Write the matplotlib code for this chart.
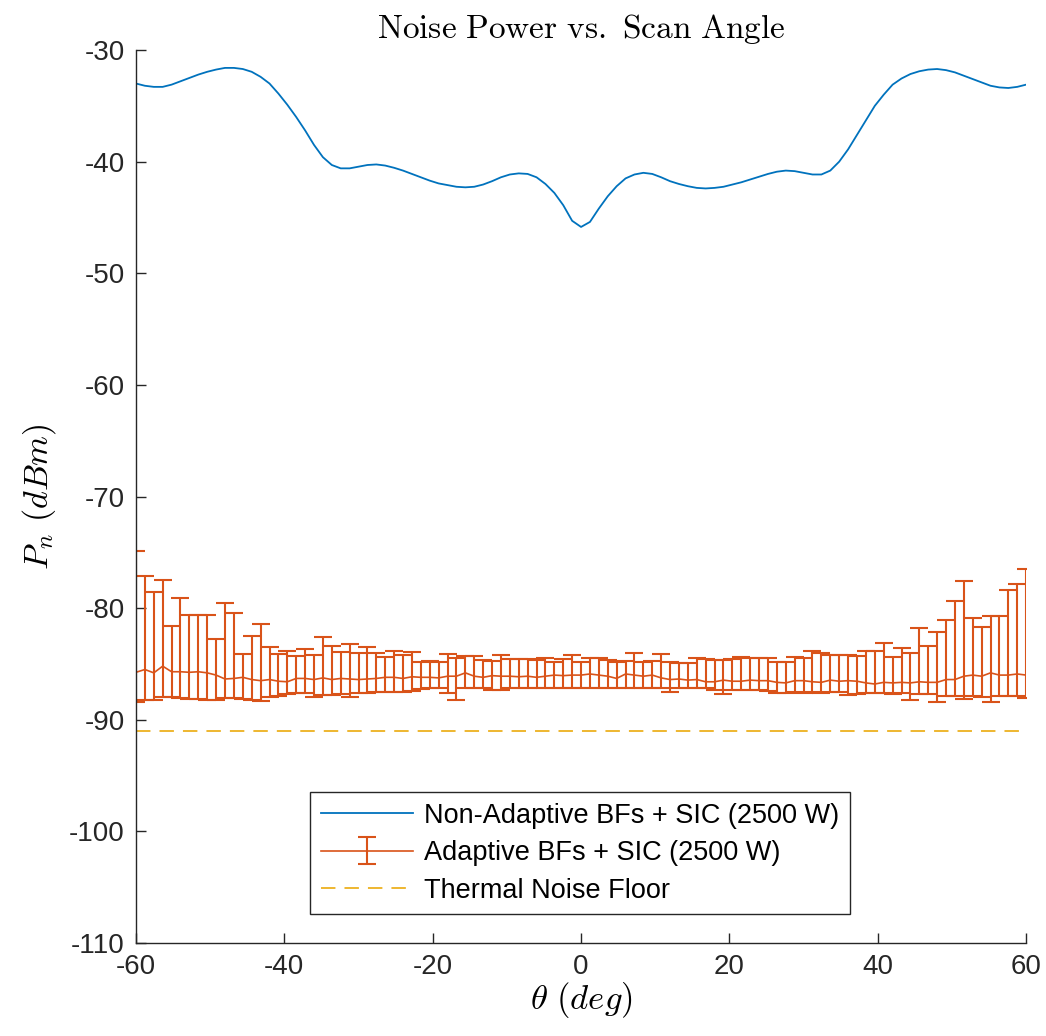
import numpy as np
import matplotlib
matplotlib.use("Agg")
import matplotlib.pyplot as plt

theta = np.linspace(-60, 60, 101)

non_adaptive = [
    -33.0, -33.2, -33.3, -33.3, -33.1, -32.8, -32.5, -32.2, -31.95, -31.75,
    -31.6, -31.6, -31.7, -31.95, -32.4, -33.0, -33.9, -34.9, -36.0, -37.2,
    -38.5, -39.6, -40.3, -40.6, -40.6, -40.45, -40.3, -40.25, -40.35, -40.55,
    -40.8, -41.1, -41.4, -41.7, -41.95, -42.1, -42.25, -42.3, -42.25, -42.05,
    -41.75, -41.4, -41.15, -41.05, -41.1, -41.4, -42.0, -42.8, -43.9, -45.3,
    -45.85, -45.4, -44.2, -43.1, -42.2, -41.5, -41.15, -41.0, -41.1, -41.4,
    -41.75, -42.0, -42.2, -42.35, -42.4, -42.35, -42.25, -42.05, -41.85, -41.6,
    -41.35, -41.1, -40.9, -40.8, -40.85, -41.0, -41.15, -41.15, -40.8, -40.0,
    -38.9, -37.6, -36.3, -35.0, -34.0, -33.1, -32.55, -32.15, -31.9, -31.75,
    -31.7, -31.8, -32.0, -32.3, -32.6, -32.9, -33.2, -33.35, -33.4, -33.3,
    -33.1,
]

adaptive_mean = [
    -85.75, -85.5, -85.8, -85.2, -85.7, -85.7, -85.75, -85.7, -85.8, -86.0,
    -86.35, -86.3, -86.2, -86.4, -86.5, -86.4, -86.55, -86.6, -86.3, -86.3,
    -86.4, -86.25, -86.4, -86.3, -86.35, -86.4, -86.35, -86.3, -86.2, -86.2,
    -86.3, -86.15, -86.2, -86.2, -86.25, -86.1, -86.1, -85.8, -86.1, -86.2,
    -86.05, -86.1, -86.1, -86.15, -86.1, -86.2, -86.1, -86.0, -86.05, -86.0,
    -86.0, -85.9, -86.0, -86.1, -86.3, -85.9, -86.0, -86.1, -86.0, -86.25,
    -86.4, -86.35, -86.45, -86.4, -86.6, -86.6, -86.45, -86.55, -86.55, -86.45,
    -86.5, -86.5, -86.65, -86.7, -86.5, -86.5, -86.6, -86.65, -86.45, -86.55,
    -86.5, -86.55, -86.7, -86.8, -86.65, -86.7, -86.65, -86.7, -86.6, -86.65,
    -86.65, -86.4, -86.4, -86.1, -86.0, -86.1, -85.8, -86.0, -86.0, -85.9,
    -86.0,
]

adaptive_upper = [
    -74.9, -77.1, -78.6, -77.5, -81.6, -79.1, -80.6, -80.6, -80.6, -82.8,
    -79.5, -80.4, -84.1, -82.5, -81.4, -83.5, -84.1, -83.8, -84.3, -83.7,
    -84.2, -82.6, -83.4, -83.9, -83.2, -84.05, -83.5, -84.0, -84.4, -83.8,
    -84.2, -83.9, -84.8, -84.7, -84.8, -84.1, -84.5, -84.3, -84.3, -84.65,
    -84.7, -84.2, -84.6, -84.6, -84.6, -84.65, -84.45, -84.8, -84.6, -84.2,
    -84.8, -84.5, -84.45, -84.65, -84.85, -84.7, -84.0, -84.8, -84.7, -84.1,
    -84.8, -84.9, -84.9, -84.45, -84.6, -84.65, -84.65, -84.6, -84.4, -84.45,
    -84.45, -84.5, -84.8, -84.8, -84.4, -84.5, -83.8, -84.05, -84.2, -84.2,
    -84.2, -84.25, -83.8, -83.8, -83.1, -84.35, -83.6, -84.0, -81.8, -83.4,
    -82.1, -81.1, -79.4, -77.6, -80.9, -81.7, -80.7, -80.7, -78.4, -77.8,
    -76.5,
]

adaptive_lower = [
    -88.4, -88.2, -88.2, -88.0, -88.0, -88.05, -88.1, -88.15, -88.25, -88.25,
    -88.05, -88.05, -88.1, -88.25, -88.3, -88.0, -87.9, -87.7, -87.6, -87.6,
    -88.0, -87.8, -87.8, -87.7, -88.0, -87.6, -87.6, -87.5, -87.5, -87.5,
    -87.5, -87.4, -87.25, -87.2, -87.2, -87.6, -88.2, -87.2, -87.2, -87.2,
    -87.35, -87.35, -87.2, -87.2, -87.2, -87.2, -87.2, -87.2, -87.2, -87.2,
    -87.2, -87.2, -87.2, -87.2, -87.2, -87.2, -87.2, -87.2, -87.2, -87.2,
    -87.5, -87.2, -87.2, -87.2, -87.2, -87.3, -87.7, -87.35, -87.35, -87.35,
    -87.35, -87.4, -87.6, -87.6, -87.5, -87.6, -87.55, -87.6, -87.5, -87.55,
    -87.75, -87.7, -87.6, -87.6, -87.6, -87.65, -87.6, -88.2, -87.7, -87.7,
    -88.4, -87.9, -87.9, -88.1, -87.9, -87.95, -88.4, -87.9, -87.9, -87.9,
    -88.05,
]

thermal_floor = -91.0

x_ticks = [-60, -40, -20, 0, 20, 40, 60]
y_ticks = [-110, -100, -90, -80, -70, -60, -50, -40, -30]

plt.rcParams['mathtext.fontset'] = 'cm'
plt.rcParams['font.family'] = ['Liberation Sans', 'DejaVu Sans']

fig = plt.figure(figsize=(10.46, 10.36), dpi=100)
ax = fig.add_axes([0.130, 0.0898, 0.851, 0.8619])

c_blue = '#0072BD'
c_red = '#D95319'
c_yel = '#EDB120'
c_ax = '#262626'

h1, = ax.plot(theta, non_adaptive, color=c_blue, lw=1.3,
              label='Non-Adaptive BFs + SIC (2500 W)')

mean = np.array(adaptive_mean)
yerr = np.vstack([mean - np.array(adaptive_lower), np.array(adaptive_upper) - mean])
h2 = ax.errorbar(theta, mean, yerr=yerr, color=c_red, lw=1.2, elinewidth=1.5,
                 capsize=6.5, capthick=1.5, label='Adaptive BFs + SIC (2500 W)')

h3 = ax.axhline(thermal_floor, color=c_yel, lw=1.3, dashes=(8, 5),
                label='Thermal Noise Floor')

ax.set_xlim(-60, 60)
ax.set_ylim(-110, -30)
ax.set_xticks(x_ticks)
ax.set_yticks(y_ticks)
ax.set_xticklabels([str(v) for v in x_ticks])
ax.set_yticklabels([str(v) for v in y_ticks])
ax.tick_params(direction='in', length=7, width=1.0, colors=c_ax,
               labelsize=20, pad=8, top=False, right=False)
for side in ['top', 'right']:
    ax.spines[side].set_visible(False)
for side in ['left', 'bottom']:
    ax.spines[side].set_color(c_ax)
    ax.spines[side].set_linewidth(1.0)

ax.set_title(r'$\mathrm{Noise\ Power\ vs.\ Scan\ Angle}$', fontsize=24,
             pad=9, color='black')
ax.set_xlabel(r'$\theta\ (deg)$', fontsize=25, labelpad=0)
ax.set_ylabel(r'$P_n\ (dBm)$', fontsize=24.5, labelpad=8)

leg = ax.legend(handles=[h1, h2, h3],
                labels=['Non-Adaptive BFs + SIC (2500 W)',
                        'Adaptive BFs + SIC (2500 W)',
                        'Thermal Noise Floor'],
                loc='upper left', bbox_to_anchor=(0.1955, 0.169), fontsize=19.5,
                frameon=True, fancybox=False, edgecolor=c_ax, framealpha=1,
                borderpad=0.4, labelspacing=0.42, handlelength=3.4,
                handletextpad=0.4, borderaxespad=0)
leg.get_frame().set_linewidth(1.0)

fig.savefig('out.png', dpi=100)
